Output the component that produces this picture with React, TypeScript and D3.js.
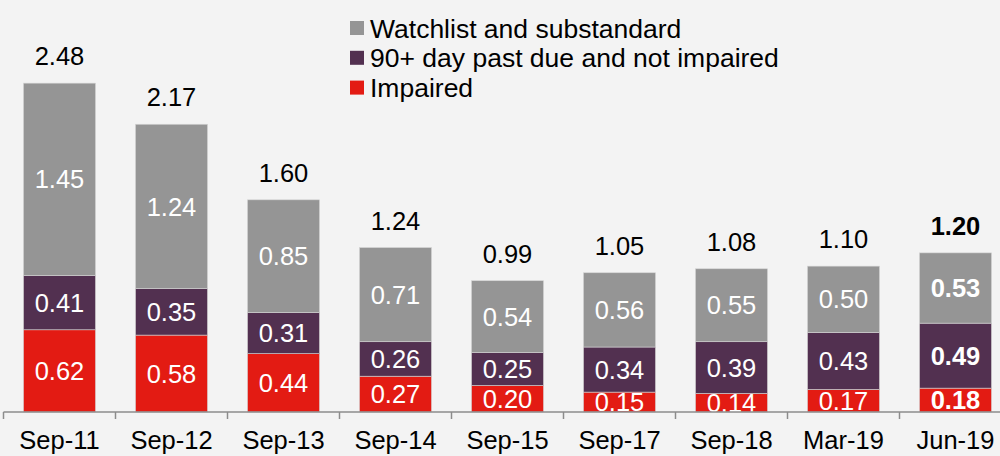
import React from "react";
import * as d3 from "d3";

const categories = ["Sep-11", "Sep-12", "Sep-13", "Sep-14", "Sep-15", "Sep-17", "Sep-18", "Mar-19", "Jun-19"];
const impaired = [0.62, 0.58, 0.44, 0.27, 0.2, 0.15, 0.14, 0.17, 0.18];
const pastDue = [0.41, 0.35, 0.31, 0.26, 0.25, 0.34, 0.39, 0.43, 0.49];
const watchlist = [1.45, 1.24, 0.85, 0.71, 0.54, 0.56, 0.55, 0.5, 0.53];
const totals = [2.48, 2.17, 1.6, 1.24, 0.99, 1.05, 1.08, 1.1, 1.2];
const seriesNames = ["Watchlist and substandard", "90+ day past due and not impaired", "Impaired"];
const seriesColors = ["#959595", "#523050", "#e31b13"];

const W = 1000;
const H = 456;
const FONT = "'Liberation Sans', Arial, sans-serif";

export default function App() {
  const baseY = 412;
  const x = d3.scaleBand<string>().domain(categories).range([3.5, 3.5 + 112 * 9]).paddingInner(40 / 112).paddingOuter(20 / 112);
  const y = d3.scaleLinear().domain([0, 3]).range([baseY, baseY - 3 * 132.6]);

  const rows = categories.map((c, i) => ({ cat: c, impaired: impaired[i], pastDue: pastDue[i], watchlist: watchlist[i] }));
  const stack = d3.stack<any>().keys(["impaired", "pastDue", "watchlist"]);
  const layers = stack(rows);
  const layerColor = [seriesColors[2], seriesColors[1], seriesColors[0]];
  const step = x.step();
  const x0 = x.range()[0];
  const last = categories.length - 1;

  return (
    <svg width={W} height={H} style={{ position: "fixed", left: 0, top: 0, background: "#f3f3f3" }} fontFamily={FONT}>
      <defs>
        <clipPath id="plot">
          <rect x={0} y={0} width={W} height={baseY} />
        </clipPath>
      </defs>
      <rect x={0} y={0} width={W} height={H} fill="#f3f3f3" />
      {layers.map((layer, li) => (
        <g key={li}>
          {layer.map((d, i) => (
            <rect
              key={i}
              x={x(categories[i])}
              width={x.bandwidth()}
              y={y(d[1])}
              height={y(d[0]) - y(d[1])}
              fill={layerColor[li]}
              stroke="#d4d4d4"
              strokeWidth={0.6}
            />
          ))}
        </g>
      ))}
      <g clipPath="url(#plot)">
        {layers.map((layer, li) => (
          <g key={li}>
            {layer.map((d, i) => (
              <text
                key={i}
                x={(x(categories[i]) as number) + x.bandwidth() / 2}
                y={(y(d[0]) + y(d[1])) / 2}
                dy="0.36em"
                textAnchor="middle"
                fill="#ffffff"
                fontSize={25.5}
                fontWeight={i === last ? "bold" : "normal"}
              >
                {(d[1] - d[0]).toFixed(2)}
              </text>
            ))}
          </g>
        ))}
      </g>
      {totals.map((t, i) => (
        <text
          key={i}
          x={(x(categories[i]) as number) + x.bandwidth() / 2}
          y={y(t) - 18}
          textAnchor="middle"
          fill="#000"
          fontSize={25.5}
          fontWeight={i === last ? "bold" : "normal"}
        >
          {t.toFixed(2)}
        </text>
      ))}
      <line x1={x0} x2={x0 + step * categories.length} y1={baseY} y2={baseY} stroke="#8c8c8c" strokeWidth={1.5} />
      {d3.range(categories.length + 1).map((k) => (
        <line key={k} x1={x0 + k * step} x2={x0 + k * step} y1={baseY} y2={baseY + 7} stroke="#8c8c8c" strokeWidth={1.5} />
      ))}
      {categories.map((c) => (
        <text key={c} x={(x(c) as number) + x.bandwidth() / 2} y={449} textAnchor="middle" fill="#000" fontSize={25.5}>
          {c}
        </text>
      ))}
      {seriesNames.map((n, i) => (
        <g key={n} transform={`translate(350, ${28 + i * 29.8})`}>
          <rect x={0} y={-7} width={14} height={14} fill={seriesColors[i]} />
          <text x={20} y={0} dy="0.36em" fill="#000" fontSize={26.5}>
            {n}
          </text>
        </g>
      ))}
    </svg>
  );
}
